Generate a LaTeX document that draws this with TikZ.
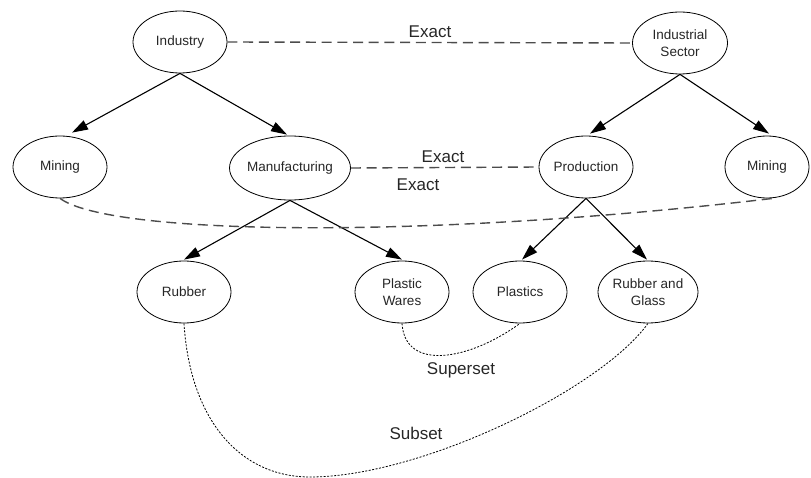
\documentclass[tikz,border=0pt]{standalone}
\usepackage{fontspec}
\setmainfont{Liberation Sans}
\usetikzlibrary{shapes.geometric,arrows.meta}
\begin{document}
\begin{tikzpicture}[x=1pt,y=-1pt,
  concept/.style={ellipse,draw,line width=0.8pt,inner sep=0pt,minimum width=94pt,minimum height=62pt,
    font=\fontsize{13.5}{17}\selectfont,text=black!85,align=center},
  isa/.style={line width=1.1pt,-{Triangle[length=16pt,width=10pt]}},
  exact/.style={line width=1.4pt,draw=black!70,dash pattern=on 10pt off 5.7pt},
  weak/.style={line width=0.8pt,dash pattern=on 2pt off 1.5pt},
  lbl/.style={font=\fontsize{17}{20}\selectfont,text=black!85,inner sep=0pt}]
\useasboundingbox (0,0) rectangle (811,478);
\node[concept] (ind) at (180,42) {Industry};
\node[concept,minimum width=95pt] (sec) at (680,43) {Industrial\\Sector};
\node[concept] (minl) at (60,167) {Mining};
\node[concept,minimum width=116pt,minimum height=64pt] (man) at (290,168) {Manufacturing};
\node[concept] (pro) at (586,167) {Production};
\node[concept,minimum width=84pt] (minr) at (767,167) {Mining};
\node[concept] (rub) at (184,292) {Rubber};
\node[concept] (pw) at (402,292) {Plastic\\Wares};
\node[concept] (pla) at (520,292) {Plastics};
\node[concept,minimum width=100pt] (rg) at (648,292) {Rubber and\\Glass};

\draw[isa] (ind.south) -- ([xshift=12pt,yshift=3pt]minl.north);
\draw[isa] (ind.south) -- ([xshift=-3pt,yshift=1pt]man.north);
\draw[isa] (sec.south) -- ([xshift=4pt,yshift=2pt]pro.north);
\draw[isa] (sec.south) -- ([xshift=2pt,yshift=2pt]minr.north);
\draw[isa] (man.south) -- ([yshift=1pt]rub.north);
\draw[isa] (man.south) -- ([yshift=1pt]pw.north);
\draw[isa] (pro.south) -- ([xshift=2pt,yshift=1pt]pla.north);
\draw[isa] (pro.south) -- ([xshift=-1pt,yshift=1pt]rg.north);

\draw[exact] (ind.east) -- (sec.west);
\node[lbl] (e1) at (430,32) {Exact};
\draw[exact] (man.east) -- (pro.west);
\node[lbl] (e2) at (443,157) {Exact};
\draw[exact] (minl.south) .. controls (110,235) and (420,240) .. ([xshift=6pt]minr.south);
\node[lbl] (e3) at (418,185) {Exact};

\draw[weak] (pw.south) .. controls (405,372) and (470,360) .. (pla.south);
\node[lbl] (sup) at (461,370) {Superset};
\coordinate (low) at (310,477);
\draw[weak] (rub.south) .. controls (190,420) and (240,477) .. (low) .. controls (420,477) and (600,390) .. (rg.south);
\node[lbl] (sub) at (416,433) {Subset};
\end{tikzpicture}
\end{document}
